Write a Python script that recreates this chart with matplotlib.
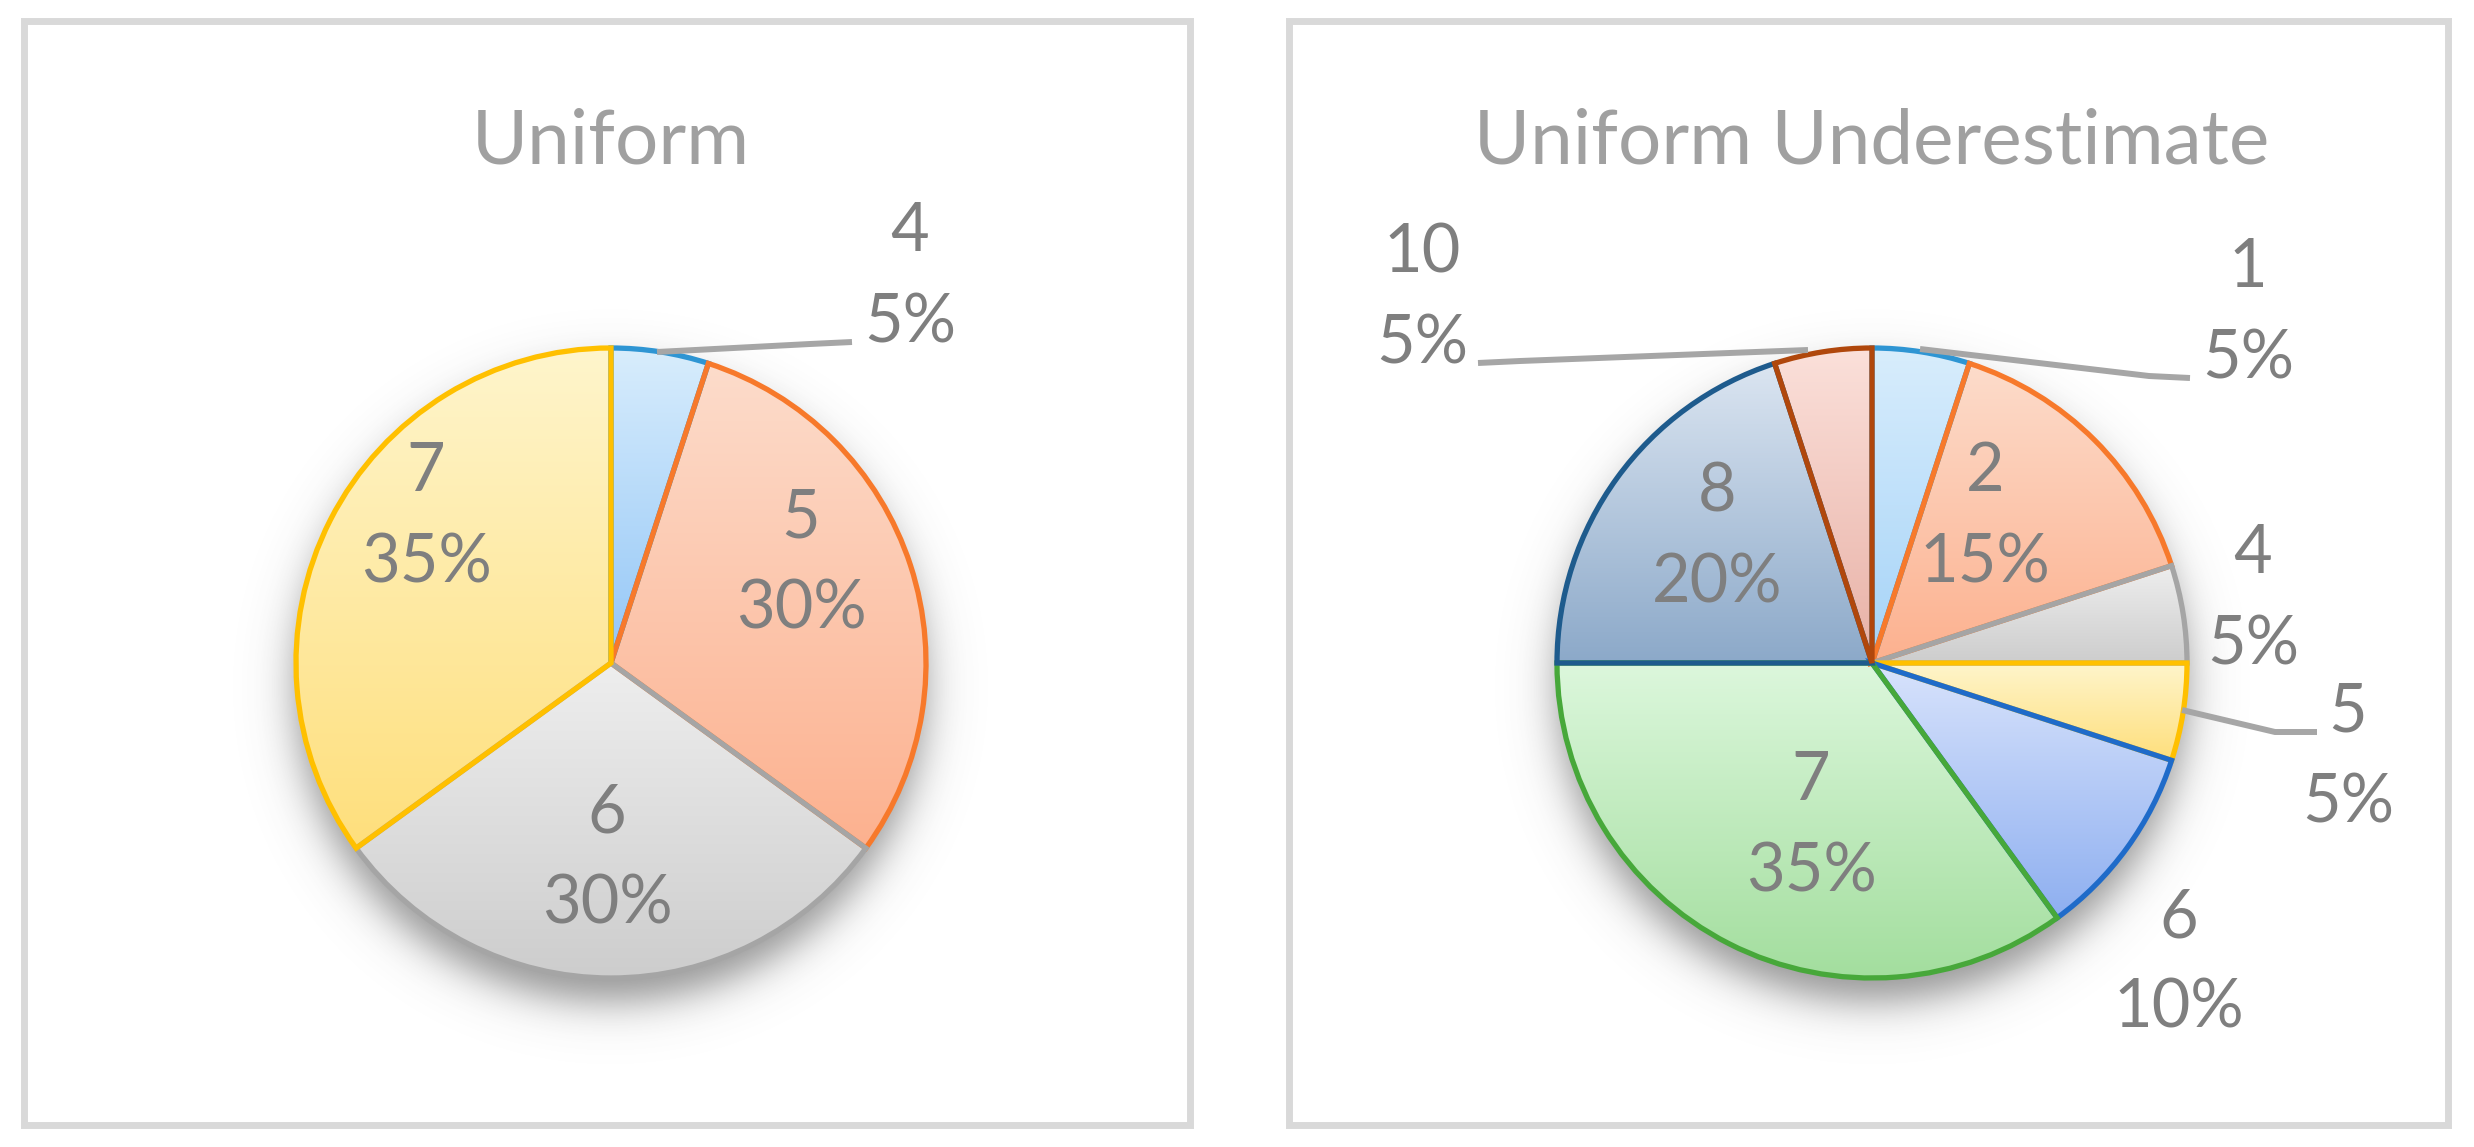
import matplotlib
matplotlib.use('Agg')
import matplotlib.pyplot as plt
import matplotlib.colors as mcolors
from matplotlib.patches import Rectangle
import numpy as np

W, H = 2474, 1147

# chart data
uniform_title = "Uniform"
uniform_cats = ['4', '5', '6', '7']
uniform_vals = [5, 30, 30, 35]

under_title = "Uniform Underestimate"
under_cats = ['1', '2', '4', '5', '6', '7', '8', '10']
under_vals = [5, 15, 5, 5, 10, 35, 20, 5]

# slice styles: edge colour, gradient top, gradient bottom
uniform_edges = ['#2e95d3', '#f7792b', '#a5a5a5', '#ffc000']
uniform_tops = ['#d8edfc', '#fddccb', '#eeeeee', '#fff5cc']
uniform_bots = ['#93c6f7', '#fcb18f', '#cdcdcd', '#fedf7c']

under_edges = ['#2e95d3', '#f7792b', '#a5a5a5', '#ffc000', '#1f6bc9', '#47a83a', '#1e5b8d', '#b0470c']
under_tops = ['#d8edfc', '#fddccb', '#eeeeee', '#fff5cc', '#d8e3fc', '#dcf7dc', '#dbe5f1', '#fbe0da']
under_bots = ['#a5d3f8', '#fcb18f', '#cdcdcd', '#fedf7c', '#8eaff0', '#a3de9e', '#8ca9c9', '#e8b1a6']

LABEL_C = '#7f7f7f'
TITLE_C = '#a0a0a0'
LEADER_C = '#a6a6a6'
FONT = 'Lato'

fig = plt.figure(figsize=(W / 100, H / 100), dpi=100, facecolor='white')

# background axes in pixel coords for the frames
bg = fig.add_axes([0, 0, 1, 1])
bg.set_xlim(0, W)
bg.set_ylim(H, 0)
bg.axis('off')
for x0, x1 in [(23.5, 1190), (1289, 2448)]:
    bg.add_patch(Rectangle((x0, 21), x1 - x0, 1125 - 21, fill=False,
                           ec='#d9d9d9', lw=5, joinstyle='miter'))


def draw_pie(cx, cy, r, title, cats, vals, edges, tops, bots, labels, leaders):
    ax = fig.add_axes([0, 0, 1, 1])
    ax.patch.set_visible(False)

    def u(px, py):
        return (px - cx) / r, (cy - py) / r

    wedges, _ = ax.pie(vals, startangle=90, counterclock=False, radius=1,
                       center=(0, 0), wedgeprops=dict(lw=3.8, joinstyle='miter'))
    ax.set_aspect('auto')
    ax.axis('off')

    # soft drop shadow under the pie
    gx = np.linspace(-1.3, 1.3, 500)
    gy = np.linspace(-1.4, 1.2, 500)
    X, Y = np.meshgrid(gx, gy)
    d = np.sqrt(X ** 2 + (Y + 0.075) ** 2)
    sh = np.zeros((500, 500, 4))
    sh[..., :3] = 0.3
    sh[..., 3] = 0.6 / (1 + np.exp((d - 1.0) / 0.04))
    ax.imshow(sh, extent=(-1.3, 1.3, -1.4, 1.2), origin='lower', aspect='auto',
              interpolation='bilinear', zorder=1)

    for i, w in enumerate(wedges):
        bb = w.get_path().get_extents()
        c0 = np.array(mcolors.to_rgb(tops[i]))
        c1 = np.array(mcolors.to_rgb(bots[i]))
        t = np.linspace(0, 1, 128)[:, None]
        grad = (c0 * (1 - t) + c1 * t)[:, None, :]
        im = ax.imshow(grad, extent=(bb.x0, bb.x1, bb.y0, bb.y1), origin='upper',
                       aspect='auto', interpolation='bilinear', zorder=2)
        im.set_clip_path(w)
        w.set_facecolor('none')
        w.set_edgecolor(edges[i])
        w.set_zorder(3 + i)

    ax.set_xlim(-cx / r, (W - cx) / r)
    ax.set_ylim(-(H - cy) / r, cy / r)

    for pts in leaders:
        xs, ys = zip(*[u(px, py) for px, py in pts])
        ax.plot(xs, ys, color=LEADER_C, lw=4.3, solid_capstyle='butt', zorder=20)

    for i, (px, py) in enumerate(labels):
        x, y = u(px, py + 24)
        ax.text(x, y, cats[i], ha='center', va='baseline', fontsize=48,
                color=LABEL_C, family=FONT, zorder=30)
        x, y = u(px, py + 91 + 24)
        ax.text(x, y, f"{vals[i]}%", ha='center', va='baseline', fontsize=48,
                color=LABEL_C, family=FONT, zorder=30)

    x, y = u(cx, 163)
    ax.text(x, y, title, ha='center', va='baseline', fontsize=55,
            color=TITLE_C, family=FONT, zorder=30)


draw_pie(611, 663, 315, uniform_title, uniform_cats, uniform_vals,
         uniform_edges, uniform_tops, uniform_bots,
         labels=[(910, 227), (801, 513), (607, 808), (426, 467)],
         leaders=[[(657, 352), (810, 344), (852, 342)]])

draw_pie(1872, 663, 315, under_title, under_cats, under_vals,
         under_edges, under_tops, under_bots,
         labels=[(2248, 263), (1985, 467), (2253, 549), (2348, 707),
                 (2179, 913), (1811, 776), (1717, 487), (1422, 248)],
         leaders=[[(1920, 349), (2149, 376), (2190, 378)],
                  [(2182, 710), (2275, 732), (2317, 732)],
                  [(1808, 350), (1520, 361), (1478, 363)]])

fig.savefig('out.png', dpi=100, facecolor='white')
